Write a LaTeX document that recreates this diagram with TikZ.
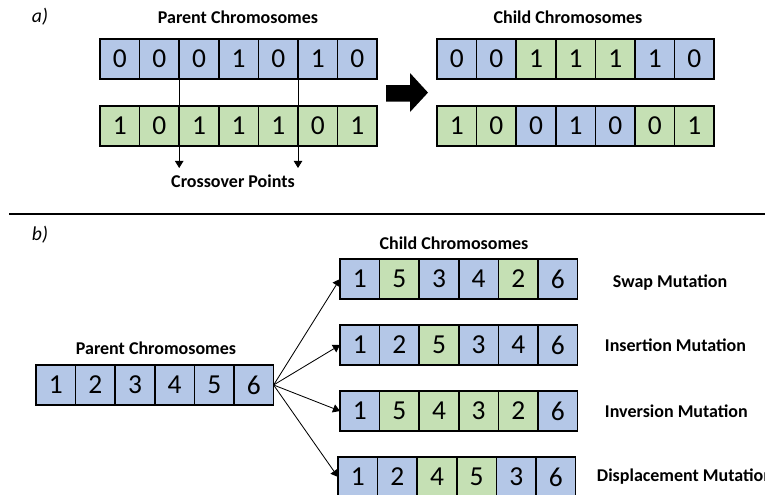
\documentclass[tikz,border=0pt]{standalone}
\usepackage{fontspec}
\setmainfont{Carlito}
\usetikzlibrary{arrows.meta, positioning}
\definecolor{bl}{HTML}{B4C7E7}
\definecolor{gr}{HTML}{C5E0B4}

\begin{document}
\begin{tikzpicture}[ % one cell is about 1cm wide
        cell/.style={rectangle, draw, line width=1.1pt, minimum width=0.99cm, minimum height=1cm, inner sep=0pt, outer sep=0pt, font=\fontsize{19.5}{19.5}\selectfont}, % Gene cells
        title/.style={font=\bfseries\fontsize{12.8}{14}\selectfont}, % Bold captions
        part/.style={font=\itshape\fontsize{14}{16}\selectfont}, % Panel letters
        myarrow/.style={line width=0.6pt, -{Triangle[length=5pt,width=6pt]}} % Thin arrows
    ]
    \useasboundingbox (0,0) rectangle (19.125,-12.375);
    % --- a) Crossover ---
    \node (la) [part] at (1.0,-0.425) {a)};
    \node (tpa) [title] at (5.95,-0.425) {Parent Chromosomes};
    \node (tca) [title] at (14.2,-0.425) {Child Chromosomes};
    \foreach \v/\c [count=\i] in {0/bl,0/bl,0/bl,1/bl,0/bl,1/bl,0/bl}
        \node (ptop-\i) [cell, fill=\c] at ({2.5+0.99*(\i-0.5)},-1.475) {\v};
    \foreach \v/\c [count=\i] in {1/gr,0/gr,1/gr,1/gr,1/gr,0/gr,1/gr}
        \node (pbot-\i) [cell, fill=\c] at ({2.5+0.99*(\i-0.5)},-3.15) {\v};
    \foreach \v/\c [count=\i] in {0/bl,0/bl,1/gr,1/gr,1/gr,1/bl,0/bl}
        \node (ctop-\i) [cell, fill=\c] at ({10.925+0.99*(\i-0.5)},-1.475) {\v};
    \foreach \v/\c [count=\i] in {1/gr,0/gr,0/bl,1/bl,0/bl,0/gr,1/gr}
        \node (cbot-\i) [cell, fill=\c] at ({10.925+0.99*(\i-0.5)},-3.15) {\v};
    \node (tcp) [title] at (5.825,-4.525) {Crossover Points};
    \coordinate (x1) at (ptop-2.south east |- 0,-4.2);
    \coordinate (x2) at (ptop-5.south east |- 0,-4.2);
    \draw[myarrow] (ptop-2.south east) -- (x1);
    \draw[myarrow] (ptop-5.south east) -- (x2);
    \fill (9.65,-2.125) -- (10.25,-2.125) -- (10.25,-1.825) -- (10.7,-2.315) -- (10.25,-2.8) -- (10.25,-2.54) -- (9.65,-2.54) -- cycle; % Big arrow
    % --- Separator ---
    \draw[line width=1.6pt] (0.225,-5.35) -- (19.125,-5.35);
    % --- b) Mutation ---
    \node (lb) [part] at (1.0,-5.875) {b)};
    \node (tpb) [title] at (3.9,-8.7) {Parent Chromosomes};
    \node (tcb) [title] at (11.35,-6.075) {Child Chromosomes};
    \foreach \v [count=\i] in {1,2,3,4,5,6}
        \node (par-\i) [cell, fill=bl] at ({0.9+0.99*(\i-0.5)},-9.625) {\v};
    \foreach \v/\c [count=\i] in {1/bl,5/gr,3/bl,4/bl,2/gr,6/bl}
        \node (swap-\i) [cell, fill=\c] at ({8.5+0.99*(\i-0.5)},-6.975) {\v};
    \foreach \v/\c [count=\i] in {1/bl,2/bl,5/gr,3/bl,4/bl,6/bl}
        \node (ins-\i) [cell, fill=\c] at ({8.5+0.99*(\i-0.5)},-8.625) {\v};
    \foreach \v/\c [count=\i] in {1/bl,5/gr,4/gr,3/gr,2/gr,6/bl}
        \node (inv-\i) [cell, fill=\c] at ({8.5+0.99*(\i-0.5)},-10.275) {\v};
    \foreach \v/\c [count=\i] in {1/bl,2/bl,4/gr,5/gr,3/bl,6/bl}
        \node (disp-\i) [cell, fill=\c] at ({8.45+0.99*(\i-0.5)},-11.925) {\v};
    \node (lswap) [title, anchor=west] at (15.2,-7.075) {Swap Mutation};
    \node (lins) [title, anchor=west] at (15.0,-8.625) {Insertion Mutation};
    \node (linv) [title, anchor=west] at (15.0,-10.275) {Inversion Mutation};
    \node (ldisp) [title, anchor=west] at (14.8,-11.925) {Displacement Mutation};
    \draw[myarrow] (par-6.east) -- (swap-1.west);
    \draw[myarrow] (par-6.east) -- (ins-1.west);
    \draw[myarrow] (par-6.east) -- (inv-1.west);
    \draw[myarrow] (par-6.east) -- (disp-1.west);
\end{tikzpicture}
\end{document}
